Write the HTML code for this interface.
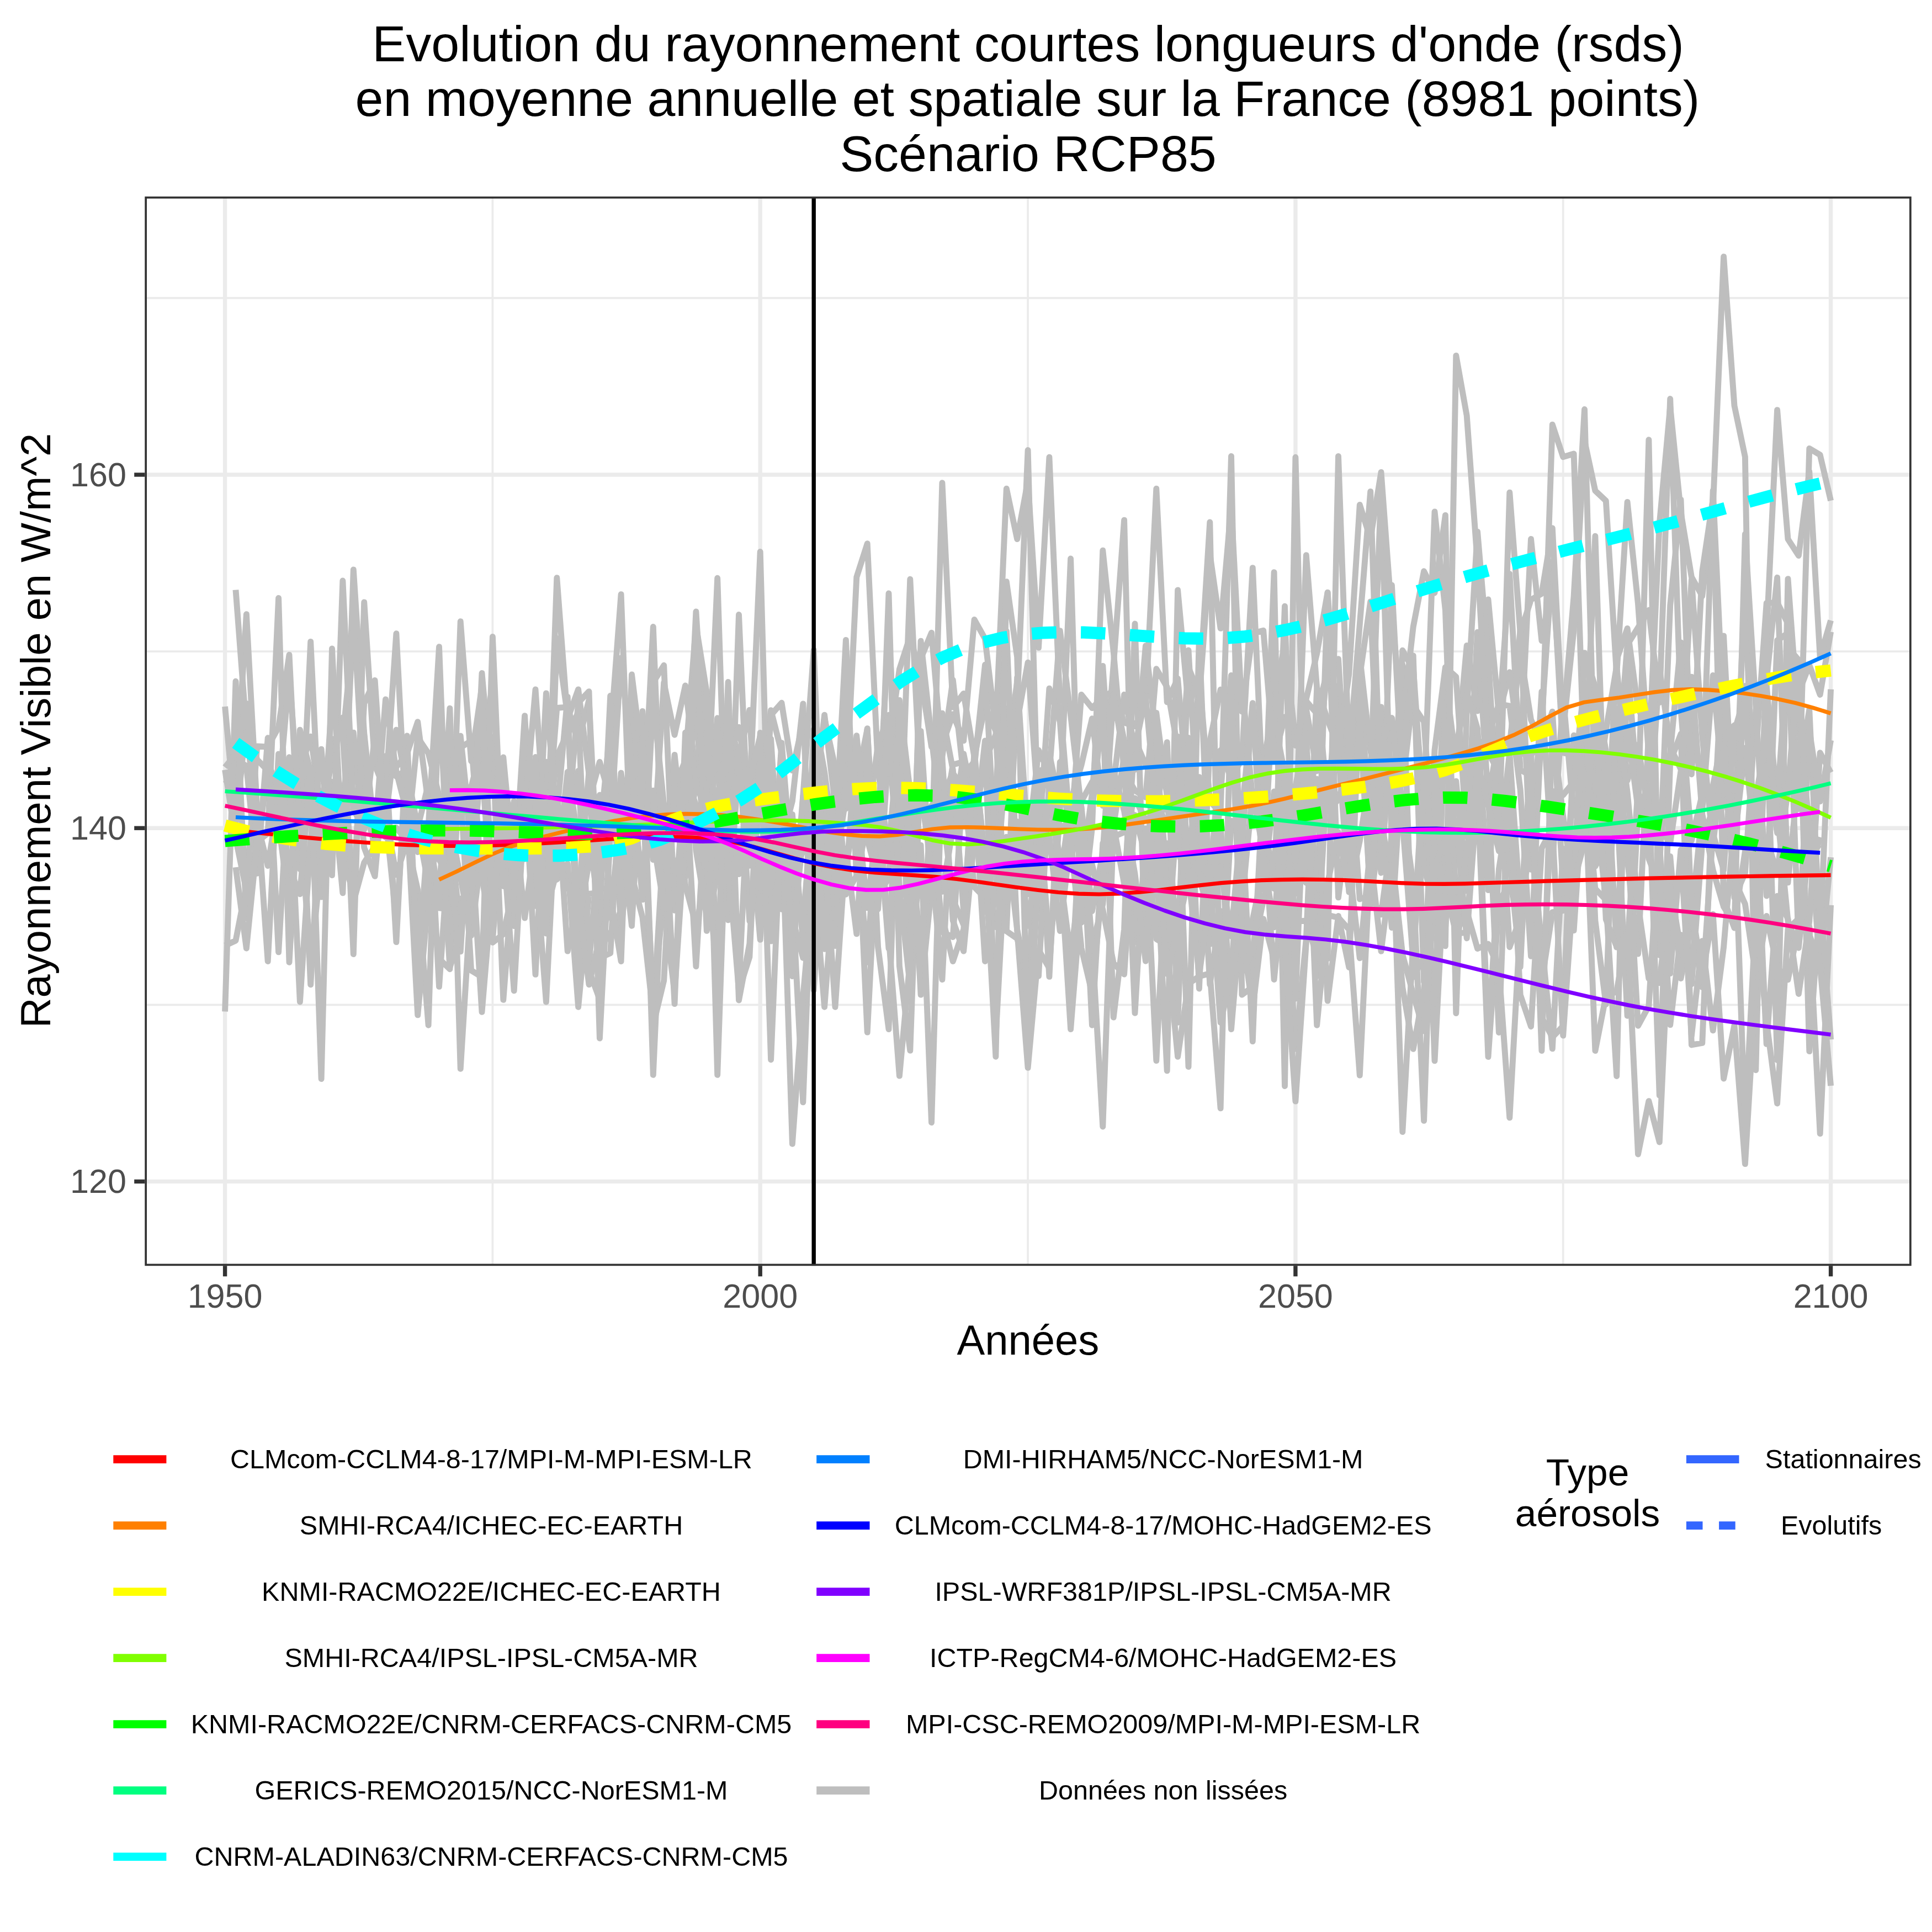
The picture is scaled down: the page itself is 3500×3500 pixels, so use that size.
<!DOCTYPE html><html><head><meta charset="utf-8"><style>
html,body{margin:0;padding:0;background:#fff;width:3500px;height:3500px;overflow:hidden}
svg{display:block}
text{font-family:"Liberation Sans", sans-serif}
</style></head><body>
<svg width="3500" height="3500" viewBox="0 0 3500 3500">
<defs><clipPath id="pc"><rect x="262.3" y="356.0" width="3200.4" height="1937.2"/></clipPath></defs>
<rect x="0" y="0" width="3500" height="3500" fill="#fff"/>

<g clip-path="url(#pc)"><line x1="892.4" y1="356.0" x2="892.4" y2="2293.2" stroke="#EBEBEB" stroke-width="3.7"/><line x1="1862.1" y1="356.0" x2="1862.1" y2="2293.2" stroke="#EBEBEB" stroke-width="3.7"/><line x1="2831.7" y1="356.0" x2="2831.7" y2="2293.2" stroke="#EBEBEB" stroke-width="3.7"/><line x1="262.3" y1="1820.3" x2="3462.7" y2="1820.3" stroke="#EBEBEB" stroke-width="3.7"/><line x1="262.3" y1="1180.1" x2="3462.7" y2="1180.1" stroke="#EBEBEB" stroke-width="3.7"/><line x1="262.3" y1="539.9" x2="3462.7" y2="539.9" stroke="#EBEBEB" stroke-width="3.7"/><line x1="407.6" y1="356.0" x2="407.6" y2="2293.2" stroke="#EBEBEB" stroke-width="7.4"/><line x1="1377.2" y1="356.0" x2="1377.2" y2="2293.2" stroke="#EBEBEB" stroke-width="7.4"/><line x1="2346.9" y1="356.0" x2="2346.9" y2="2293.2" stroke="#EBEBEB" stroke-width="7.4"/><line x1="3316.6" y1="356.0" x2="3316.6" y2="2293.2" stroke="#EBEBEB" stroke-width="7.4"/><line x1="262.3" y1="2140.4" x2="3462.7" y2="2140.4" stroke="#EBEBEB" stroke-width="7.4"/><line x1="262.3" y1="1500.2" x2="3462.7" y2="1500.2" stroke="#EBEBEB" stroke-width="7.4"/><line x1="262.3" y1="860.0" x2="3462.7" y2="860.0" stroke="#EBEBEB" stroke-width="7.4"/>
<g fill="none" stroke="#BEBEBE" stroke-width="10.9" stroke-linejoin="round" stroke-linecap="butt"><path d="M407.6,1280.0 L427.0,1492.3 L446.4,1307.2 L465.8,1376.0 L485.2,1396.1 L504.6,1489.8 L524.0,1642.5 L543.4,1322.1 L562.7,1398.9 L582.1,1625.1 L601.5,1441.7 L620.9,1529.9 L640.3,1106.9 L659.7,1449.7 L679.1,1489.1 L698.5,1476.0 L717.9,1584.8 L737.3,1524.6 L756.7,1611.9 L776.1,1857.2 L795.5,1246.1 L814.9,1647.2 L834.2,1125.8 L853.6,1378.8 L873.0,1243.9 L892.4,1627.2 L911.8,1408.5 L931.2,1578.9 L950.6,1456.5 L970.0,1541.7 L989.4,1525.7 L1008.8,1593.3 L1028.2,1564.5 L1047.6,1824.2 L1067.0,1619.3 L1086.4,1617.8 L1105.7,1334.9 L1125.1,1076.7 L1144.5,1585.6 L1163.9,1661.8 L1183.3,1838.6 L1202.7,1517.9 L1222.1,1400.3 L1241.5,1456.8 L1260.9,1427.5 L1280.3,1391.9 L1299.7,1372.9 L1319.1,1666.8 L1338.5,1113.5 L1357.9,1554.6 L1377.2,1370.3 L1396.6,1642.2 L1416.0,1345.8 L1435.4,1580.1 L1454.8,1542.7 L1474.2,1445.4 L1493.6,1620.6 L1513.0,1525.4 L1532.4,1159.4 L1551.8,1588.3 L1571.2,1407.1 L1590.6,1620.9 L1610.0,1591.1 L1629.4,1310.2 L1648.8,1790.4 L1668.1,1161.2 L1687.5,1336.3 L1706.9,1504.4 L1726.3,1385.2 L1745.7,1379.9 L1765.1,1534.7 L1784.5,1547.9 L1803.9,1679.5 L1823.3,1686.7 L1842.7,1700.3 L1862.1,1767.8 L1881.5,1768.3 L1900.9,1413.7 L1920.3,1593.4 L1939.6,1457.1 L1959.0,1478.6 L1978.4,1708.4 L1997.8,2041.0 L2017.2,1497.0 L2036.6,1369.5 L2056.0,1817.1 L2075.4,1525.3 L2094.8,1921.6 L2114.2,1527.8 L2133.6,1689.7 L2153.0,1365.2 L2172.4,1591.7 L2191.8,1653.1 L2211.1,1754.2 L2230.5,1728.9 L2249.9,1730.4 L2269.3,1665.5 L2288.7,1574.7 L2308.1,1235.0 L2327.5,1568.2 L2346.9,1900.4 L2366.3,1700.7 L2385.7,1246.9 L2405.1,1452.2 L2424.5,1242.1 L2443.9,1563.2 L2463.3,1735.7 L2482.7,1533.5 L2502.0,1280.7 L2521.4,1470.6 L2540.8,2050.6 L2560.2,1706.1 L2579.6,1383.2 L2599.0,1921.9 L2618.4,1542.6 L2637.8,1490.5 L2657.2,1586.6 L2676.6,1338.7 L2696.0,1362.9 L2715.4,1399.8 L2734.8,1715.7 L2754.2,1663.3 L2773.5,1367.4 L2792.9,1346.4 L2812.3,1289.1 L2831.7,1601.7 L2851.1,1538.3 L2870.5,1395.8 L2889.9,1500.7 L2909.3,1583.1 L2928.7,1326.4 L2948.1,1557.2 L2967.5,1728.0 L2986.9,1324.1 L3006.3,1527.2 L3025.7,1856.6 L3045.0,1693.3 L3064.4,1782.8 L3083.8,1526.4 L3103.2,1464.1 L3122.6,1310.4 L3142.0,1593.7 L3161.4,1637.6 L3180.8,1768.4 L3200.2,1291.1 L3219.6,1920.5 L3239.0,1048.7 L3258.4,1312.7 L3277.8,1493.8 L3297.2,1754.1 L3316.6,1553.1"/><path d="M795.5,1737.0 L814.9,1755.7 L834.2,1345.0 L853.6,1534.4 L873.0,1588.4 L892.4,1707.4 L911.8,1692.5 L931.2,1603.3 L950.6,1296.6 L970.0,1641.3 L989.4,1255.9 L1008.8,1494.2 L1028.2,1509.8 L1047.6,1396.4 L1067.0,1757.9 L1086.4,1810.6 L1105.7,1510.0 L1125.1,1525.6 L1144.5,1598.4 L1163.9,1324.0 L1183.3,1543.1 L1202.7,1236.5 L1222.1,1331.2 L1241.5,1242.0 L1260.9,1405.8 L1280.3,1492.1 L1299.7,1585.5 L1319.1,1296.3 L1338.5,1372.7 L1357.9,1286.2 L1377.2,1651.8 L1396.6,1457.9 L1416.0,1567.6 L1435.4,1624.2 L1454.8,1996.9 L1474.2,1485.5 L1493.6,1499.6 L1513.0,1455.4 L1532.4,1465.0 L1551.8,1446.6 L1571.2,1870.1 L1590.6,1490.0 L1610.0,1141.0 L1629.4,1498.9 L1648.8,1532.5 L1668.1,1459.2 L1687.5,1515.4 L1706.9,1615.3 L1726.3,1501.4 L1745.7,1365.7 L1765.1,1461.4 L1784.5,1620.6 L1803.9,1454.9 L1823.3,1628.4 L1842.7,1605.1 L1862.1,1537.1 L1881.5,1395.9 L1900.9,1393.7 L1920.3,1582.9 L1939.6,1731.5 L1959.0,1582.0 L1978.4,1438.3 L1997.8,1206.4 L2017.2,1494.9 L2036.6,1601.0 L2056.0,1339.9 L2075.4,1385.4 L2094.8,1365.8 L2114.2,1591.9 L2133.6,1746.5 L2153.0,1177.9 L2172.4,1515.5 L2191.8,1598.3 L2211.1,1359.2 L2230.5,1411.1 L2249.9,1374.0 L2269.3,1028.6 L2288.7,1459.6 L2308.1,1220.0 L2327.5,1582.3 L2346.9,1531.1 L2366.3,1490.4 L2385.7,1658.4 L2405.1,1073.4 L2424.5,1625.9 L2443.9,1467.7 L2463.3,1189.3 L2482.7,1360.0 L2502.0,1440.8 L2521.4,1447.0 L2540.8,1204.2 L2560.2,1277.9 L2579.6,1307.5 L2599.0,1579.9 L2618.4,1227.1 L2637.8,1383.0 L2657.2,1169.4 L2676.6,1288.0 L2696.0,1085.9 L2715.4,1294.8 L2734.8,1217.8 L2754.2,1367.3 L2773.5,976.5 L2792.9,1160.7 L2812.3,1051.2 L2831.7,1310.9 L2851.1,1080.2 L2870.5,741.5 L2889.9,1451.3 L2909.3,1323.4 L2928.7,1207.2 L2948.1,1413.9 L2967.5,1349.2 L2986.9,1479.5 L3006.3,1543.1 L3025.7,1363.3 L3045.0,1163.6 L3064.4,1661.1 L3083.8,1467.7 L3103.2,1223.5 L3122.6,1445.3 L3142.0,1502.5 L3161.4,1052.7 L3180.8,1648.2 L3200.2,1232.8 L3219.6,1046.3 L3239.0,1598.9 L3258.4,1401.2 L3277.8,1285.4 L3297.2,1700.7 L3316.6,1248.7"/><path d="M407.6,1394.7 L427.0,1519.2 L446.4,1613.9 L465.8,1524.7 L485.2,1509.8 L504.6,1083.4 L524.0,1743.3 L543.4,1396.5 L562.7,1334.3 L582.1,1467.6 L601.5,1381.9 L620.9,1300.0 L640.3,1728.6 L659.7,1090.9 L679.1,1385.9 L698.5,1434.6 L717.9,1147.8 L737.3,1522.6 L756.7,1645.0 L776.1,1637.5 L795.5,1607.7 L814.9,1411.9 L834.2,1333.1 L853.6,1520.6 L873.0,1833.4 L892.4,1601.3 L911.8,1557.8 L931.2,1451.3 L950.6,1546.5 L970.0,1466.1 L989.4,1581.2 L1008.8,1046.8 L1028.2,1302.8 L1047.6,1248.9 L1067.0,1403.0 L1086.4,1735.3 L1105.7,1726.8 L1125.1,1400.3 L1144.5,1524.8 L1163.9,1330.6 L1183.3,1947.3 L1202.7,1514.6 L1222.1,1565.0 L1241.5,1589.0 L1260.9,1374.3 L1280.3,1483.6 L1299.7,1300.8 L1319.1,1632.5 L1338.5,1363.2 L1357.9,1495.2 L1377.2,1605.3 L1396.6,1338.7 L1416.0,1647.2 L1435.4,1475.5 L1454.8,1707.5 L1474.2,1586.5 L1493.6,1824.2 L1513.0,1570.4 L1532.4,1444.8 L1551.8,1045.5 L1571.2,984.8 L1590.6,1390.6 L1610.0,1551.8 L1629.4,1582.4 L1648.8,1049.2 L1668.1,1438.1 L1687.5,1566.6 L1706.9,874.6 L1726.3,1281.2 L1745.7,1256.4 L1765.1,1371.6 L1784.5,1278.9 L1803.9,1324.4 L1823.3,1686.7 L1842.7,1227.0 L1862.1,1531.0 L1881.5,1359.0 L1900.9,1401.3 L1920.3,1142.7 L1939.6,1295.7 L1959.0,1465.8 L1978.4,1857.2 L1997.8,1527.7 L2017.2,1516.1 L2036.6,1507.5 L2056.0,1445.9 L2075.4,1485.5 L2094.8,1476.5 L2114.2,1462.2 L2133.6,1544.9 L2153.0,1585.2 L2172.4,1424.6 L2191.8,1783.8 L2211.1,1650.4 L2230.5,1764.6 L2249.9,1479.6 L2269.3,1886.6 L2288.7,1381.4 L2308.1,1276.1 L2327.5,1164.3 L2346.9,1342.2 L2366.3,1283.6 L2385.7,1396.7 L2405.1,1205.8 L2424.5,1193.7 L2443.9,1501.1 L2463.3,1225.6 L2482.7,1089.9 L2502.0,1553.1 L2521.4,1060.0 L2540.8,1421.1 L2560.2,1255.7 L2579.6,1452.4 L2599.0,926.9 L2618.4,1105.2 L2637.8,1649.7 L2657.2,1544.2 L2676.6,1416.6 L2696.0,1333.3 L2715.4,1275.5 L2734.8,1278.8 L2754.2,1430.7 L2773.5,1732.4 L2792.9,1302.2 L2812.3,1017.4 L2831.7,1363.7 L2851.1,1368.0 L2870.5,1467.0 L2889.9,1569.2 L2909.3,1535.4 L2928.7,1412.9 L2948.1,1168.0 L2967.5,1136.9 L2986.9,1105.3 L3006.3,1272.6 L3025.7,722.5 L3045.0,1285.8 L3064.4,1522.8 L3083.8,1438.5 L3103.2,888.6 L3122.6,1304.5 L3142.0,1324.7 L3161.4,1260.1 L3180.8,1365.3 L3200.2,1092.6 L3219.6,1091.4 L3239.0,1129.8 L3258.4,1255.0 L3277.8,1204.9 L3297.2,1258.5 L3316.6,1144.7"/><path d="M795.5,1650.3 L814.9,1492.9 L834.2,1589.3 L853.6,1694.8 L873.0,1540.8 L892.4,1701.6 L911.8,1476.7 L931.2,1530.1 L950.6,1650.2 L970.0,1544.6 L989.4,1605.2 L1008.8,1476.0 L1028.2,1262.5 L1047.6,1782.3 L1067.0,1506.8 L1086.4,1665.3 L1105.7,1703.3 L1125.1,1647.5 L1144.5,1283.0 L1163.9,1510.1 L1183.3,1135.5 L1202.7,1643.3 L1222.1,1436.5 L1241.5,1514.0 L1260.9,1246.2 L1280.3,1686.4 L1299.7,1578.9 L1319.1,1566.5 L1338.5,1535.6 L1357.9,1486.9 L1377.2,1702.4 L1396.6,1396.1 L1416.0,1539.9 L1435.4,1768.5 L1454.8,1442.1 L1474.2,1546.5 L1493.6,1454.9 L1513.0,1527.7 L1532.4,1280.4 L1551.8,1487.3 L1571.2,1319.7 L1590.6,1715.8 L1610.0,1864.6 L1629.4,1268.5 L1648.8,1434.8 L1668.1,1802.1 L1687.5,1608.5 L1706.9,1660.9 L1726.3,1741.5 L1745.7,1683.4 L1765.1,1470.1 L1784.5,1651.8 L1803.9,1538.2 L1823.3,1283.4 L1842.7,1686.5 L1862.1,1934.4 L1881.5,1721.0 L1900.9,1753.7 L1920.3,1464.3 L1939.6,1012.0 L1959.0,1671.1 L1978.4,1499.9 L1997.8,997.3 L2017.2,1180.3 L2036.6,1398.8 L2056.0,1432.1 L2075.4,1444.4 L2094.8,1211.7 L2114.2,1244.6 L2133.6,1354.7 L2153.0,1546.0 L2172.4,1407.6 L2191.8,1710.3 L2211.1,1432.1 L2230.5,1223.5 L2249.9,1236.1 L2269.3,1450.3 L2288.7,1480.3 L2308.1,1774.5 L2327.5,1580.3 L2346.9,1618.9 L2366.3,1270.1 L2385.7,1292.8 L2405.1,1213.4 L2424.5,1282.4 L2443.9,1551.1 L2463.3,1334.7 L2482.7,1413.2 L2502.0,884.8 L2521.4,1534.7 L2540.8,1270.6 L2560.2,1187.7 L2579.6,1779.1 L2599.0,1358.5 L2618.4,1208.8 L2637.8,1226.0 L2657.2,1515.3 L2676.6,1145.1 L2696.0,1446.5 L2715.4,1334.1 L2734.8,1349.2 L2754.2,1180.9 L2773.5,1303.7 L2792.9,1347.7 L2812.3,769.1 L2831.7,827.9 L2851.1,822.0 L2870.5,1402.8 L2889.9,1610.0 L2909.3,1630.3 L2928.7,1949.5 L2948.1,1197.7 L2967.5,1448.5 L2986.9,1507.7 L3006.3,1210.2 L3025.7,1353.1 L3045.0,1393.3 L3064.4,1050.0 L3083.8,1332.8 L3103.2,1528.5 L3122.6,1152.0 L3142.0,1525.8 L3161.4,1355.0 L3180.8,1545.8 L3200.2,1386.4 L3219.6,1509.0 L3239.0,1172.8 L3258.4,1195.8 L3277.8,1904.6 L3297.2,1629.1 L3316.6,1883.2"/><path d="M407.6,1713.0 L427.0,1704.0 L446.4,1604.4 L465.8,1352.0 L485.2,1353.0 L504.6,1317.4 L524.0,1186.3 L543.4,1574.8 L562.7,1162.4 L582.1,1566.6 L601.5,1523.4 L620.9,1514.1 L640.3,1389.6 L659.7,1459.7 L679.1,1531.3 L698.5,1479.3 L717.9,1667.4 L737.3,1395.9 L756.7,1499.5 L776.1,1420.2 L795.5,1787.4 L814.9,1510.9 L834.2,1677.6 L853.6,1603.3 L873.0,1358.0 L892.4,1335.2 L911.8,1516.1 L931.2,1474.1 L950.6,1663.0 L970.0,1512.5 L989.4,1537.1 L1008.8,1370.4 L1028.2,1327.1 L1047.6,1291.2 L1067.0,1748.2 L1086.4,1513.9 L1105.7,1318.0 L1125.1,1686.9 L1144.5,1486.5 L1163.9,1445.8 L1183.3,1557.5 L1202.7,1461.1 L1222.1,1463.6 L1241.5,1565.7 L1260.9,1413.5 L1280.3,1479.2 L1299.7,1047.3 L1319.1,1651.1 L1338.5,1382.9 L1357.9,1568.2 L1377.2,1470.0 L1396.6,1286.6 L1416.0,1363.2 L1435.4,1620.1 L1454.8,1466.8 L1474.2,1474.2 L1493.6,1295.2 L1513.0,1458.2 L1532.4,1430.2 L1551.8,1378.7 L1571.2,1484.0 L1590.6,1586.7 L1610.0,1074.9 L1629.4,1750.0 L1648.8,1903.2 L1668.1,1366.3 L1687.5,1563.2 L1706.9,1446.8 L1726.3,1399.1 L1745.7,1492.5 L1765.1,1434.4 L1784.5,1741.5 L1803.9,1612.6 L1823.3,1371.2 L1842.7,1307.7 L1862.1,1200.2 L1881.5,1469.8 L1900.9,1365.4 L1920.3,1457.8 L1939.6,1451.7 L1959.0,1386.0 L1978.4,1301.8 L1997.8,1459.6 L2017.2,1204.6 L2036.6,942.2 L2056.0,1706.7 L2075.4,1613.7 L2094.8,1291.4 L2114.2,1442.5 L2133.6,1400.0 L2153.0,1932.6 L2172.4,1153.0 L2191.8,1633.0 L2211.1,1488.5 L2230.5,1864.6 L2249.9,1636.5 L2269.3,1433.5 L2288.7,1544.7 L2308.1,1036.6 L2327.5,1967.5 L2346.9,828.3 L2366.3,1599.3 L2385.7,1421.8 L2405.1,1468.6 L2424.5,1448.7 L2443.9,1384.0 L2463.3,1233.9 L2482.7,1639.1 L2502.0,1480.4 L2521.4,1610.4 L2540.8,1178.2 L2560.2,1213.1 L2579.6,1573.6 L2599.0,1637.0 L2618.4,1506.8 L2637.8,1691.2 L2657.2,1689.3 L2676.6,1398.3 L2696.0,1430.6 L2715.4,1870.5 L2734.8,1364.8 L2754.2,1645.7 L2773.5,1527.7 L2792.9,1707.1 L2812.3,1899.9 L2831.7,1537.1 L2851.1,1685.7 L2870.5,1395.1 L2889.9,1452.0 L2909.3,1632.5 L2928.7,1443.7 L2948.1,1840.3 L2967.5,1463.6 L2986.9,796.7 L3006.3,1730.4 L3025.7,1551.3 L3045.0,1772.5 L3064.4,1670.4 L3083.8,1788.5 L3103.2,1510.7 L3122.6,1576.0 L3142.0,1314.0 L3161.4,1375.7 L3180.8,1460.6 L3200.2,1891.4 L3219.6,1623.3 L3239.0,1664.7 L3258.4,1800.5 L3277.8,1669.1 L3297.2,1363.7 L3316.6,1399.5"/><path d="M407.6,1412.1 L427.0,1429.7 L446.4,1112.8 L465.8,1466.2 L485.2,1741.5 L504.6,1365.9 L524.0,1386.9 L543.4,1511.7 L562.7,1461.1 L582.1,1388.6 L601.5,1523.6 L620.9,1440.2 L640.3,1327.1 L659.7,1535.4 L679.1,1587.4 L698.5,1374.3 L717.9,1406.7 L737.3,1394.1 L756.7,1543.6 L776.1,1497.4 L795.5,1171.8 L814.9,1668.6 L834.2,1354.4 L853.6,1342.0 L873.0,1597.7 L892.4,1603.6 L911.8,1372.0 L931.2,1576.4 L950.6,1430.7 L970.0,1440.6 L989.4,1530.4 L1008.8,1282.4 L1028.2,1281.0 L1047.6,1345.4 L1067.0,1267.9 L1086.4,1657.2 L1105.7,1260.5 L1125.1,1651.7 L1144.5,1547.4 L1163.9,1439.7 L1183.3,1814.0 L1202.7,1623.2 L1222.1,1444.5 L1241.5,1603.0 L1260.9,1676.0 L1280.3,1587.6 L1299.7,1318.2 L1319.1,1453.4 L1338.5,1357.6 L1357.9,1668.6 L1377.2,1553.6 L1396.6,1668.5 L1416.0,1440.6 L1435.4,1663.4 L1454.8,1735.4 L1474.2,1321.5 L1493.6,1486.1 L1513.0,1523.5 L1532.4,1620.4 L1551.8,1586.3 L1571.2,1491.5 L1590.6,1349.3 L1610.0,1295.2 L1629.4,1420.7 L1648.8,1649.5 L1668.1,1324.5 L1687.5,1628.1 L1706.9,1292.3 L1726.3,1394.7 L1745.7,1651.4 L1765.1,1389.1 L1784.5,1204.3 L1803.9,1569.5 L1823.3,1375.8 L1842.7,1235.4 L1862.1,1619.7 L1881.5,1429.6 L1900.9,1769.4 L1920.3,1380.5 L1939.6,1517.0 L1959.0,1520.8 L1978.4,1468.9 L1997.8,1280.6 L2017.2,1843.0 L2036.6,1683.3 L2056.0,1129.9 L2075.4,1736.8 L2094.8,1553.5 L2114.2,1939.9 L2133.6,1068.9 L2153.0,1279.2 L2172.4,1225.9 L2191.8,1451.0 L2211.1,1473.5 L2230.5,826.4 L2249.9,1802.1 L2269.3,1787.8 L2288.7,1416.5 L2308.1,1301.1 L2327.5,1402.4 L2346.9,1508.0 L2366.3,1005.8 L2385.7,1245.6 L2405.1,1304.1 L2424.5,1355.6 L2443.9,1359.8 L2463.3,1628.9 L2482.7,1623.0 L2502.0,1656.8 L2521.4,1513.0 L2540.8,1215.5 L2560.2,1770.0 L2579.6,1733.8 L2599.0,1818.5 L2618.4,1285.4 L2637.8,1354.3 L2657.2,1254.4 L2676.6,1320.1 L2696.0,1612.6 L2715.4,1303.1 L2734.8,1039.7 L2754.2,1394.9 L2773.5,1404.9 L2792.9,1903.6 L2812.3,1319.4 L2831.7,1478.4 L2851.1,1609.0 L2870.5,1182.6 L2889.9,1244.2 L2909.3,1360.7 L2928.7,1716.1 L2948.1,1318.2 L2967.5,1465.6 L2986.9,1425.0 L3006.3,1984.6 L3025.7,1380.0 L3045.0,1329.6 L3064.4,1893.0 L3083.8,1889.5 L3103.2,1423.5 L3122.6,1323.4 L3142.0,1626.4 L3161.4,1581.6 L3180.8,1286.0 L3200.2,1241.1 L3219.6,1458.0 L3239.0,1167.8 L3258.4,1712.3 L3277.8,1322.9 L3297.2,1451.9 L3316.6,1341.0"/><path d="M427.0,1375.3 L446.4,1387.5 L465.8,1582.4 L485.2,1336.8 L504.6,1724.9 L524.0,1388.9 L543.4,1355.7 L562.7,1783.7 L582.1,1435.3 L601.5,1416.5 L620.9,1617.8 L640.3,1032.0 L659.7,1328.0 L679.1,1513.4 L698.5,1267.0 L717.9,1397.3 L737.3,1473.4 L756.7,1838.9 L776.1,1627.0 L795.5,1470.5 L814.9,1652.9 L834.2,1627.9 L853.6,1655.5 L873.0,1309.2 L892.4,1341.8 L911.8,1811.3 L931.2,1557.0 L950.6,1556.2 L970.0,1516.6 L989.4,1650.8 L1008.8,1577.8 L1028.2,1398.5 L1047.6,1520.7 L1067.0,1450.2 L1086.4,1380.2 L1105.7,1446.8 L1125.1,1448.6 L1144.5,1652.5 L1163.9,1288.4 L1183.3,1521.6 L1202.7,1641.3 L1222.1,1798.1 L1241.5,1506.9 L1260.9,1108.0 L1280.3,1411.2 L1299.7,1725.4 L1319.1,1557.8 L1338.5,1794.5 L1357.9,1733.5 L1377.2,1327.4 L1396.6,1507.9 L1416.0,1429.2 L1435.4,1633.9 L1454.8,1668.0 L1474.2,1441.5 L1493.6,1301.2 L1513.0,1390.4 L1532.4,1408.0 L1551.8,1417.1 L1571.2,1321.0 L1590.6,1646.9 L1610.0,1353.4 L1629.4,1212.5 L1648.8,1152.5 L1668.1,1227.3 L1687.5,1352.8 L1706.9,1349.8 L1726.3,1293.6 L1745.7,1341.9 L1765.1,1122.5 L1784.5,1157.1 L1803.9,1320.6 L1823.3,885.2 L1842.7,976.6 L1862.1,871.8 L1881.5,1173.4 L1900.9,828.3 L1920.3,1275.6 L1939.6,1510.1 L1959.0,1258.5 L1978.4,1282.7 L1997.8,1263.6 L2017.2,1251.3 L2036.6,1309.0 L2056.0,1315.6 L2075.4,1278.6 L2094.8,885.2 L2114.2,1271.9 L2133.6,1229.2 L2153.0,1454.1 L2172.4,1267.7 L2191.8,1003.8 L2211.1,1138.4 L2230.5,917.1 L2249.9,1289.2 L2269.3,1147.3 L2288.7,1142.2 L2308.1,1374.5 L2327.5,1298.8 L2346.9,1350.6 L2366.3,1266.2 L2385.7,1183.9 L2405.1,1073.3 L2424.5,1357.3 L2443.9,1220.9 L2463.3,914.5 L2482.7,975.9 L2502.0,855.5 L2521.4,1116.9 L2540.8,1306.9 L2560.2,1135.6 L2579.6,1034.8 L2599.0,1074.0 L2618.4,933.4 L2637.8,1835.6 L2657.2,1287.6 L2676.6,963.1 L2696.0,1191.2 L2715.4,1514.4 L2734.8,892.2 L2754.2,1146.7 L2773.5,1086.4 L2792.9,1075.4 L2812.3,956.8 L2831.7,1323.9 L2851.1,1141.5 L2870.5,798.3 L2889.9,889.0 L2909.3,907.2 L2928.7,1221.8 L2948.1,909.4 L2967.5,1094.0 L2986.9,1367.9 L3006.3,948.8 L3025.7,736.8 L3045.0,928.1 L3064.4,1045.3 L3083.8,1079.9 L3103.2,919.1 L3122.6,465.0 L3142.0,735.0 L3161.4,827.6 L3180.8,1938.6 L3200.2,1151.0 L3219.6,742.6 L3239.0,976.6 L3258.4,1006.6 L3277.8,854.5 L3297.2,1190.5 L3316.6,1123.9"/><path d="M427.0,1068.7 L446.4,1323.0 L465.8,1489.5 L485.2,1568.5 L504.6,1448.8 L524.0,1371.7 L543.4,1556.8 L562.7,1455.6 L582.1,1528.2 L601.5,1340.3 L620.9,1331.9 L640.3,1634.2 L659.7,1562.7 L679.1,1533.2 L698.5,1369.6 L717.9,1706.6 L737.3,1333.0 L756.7,1761.7 L776.1,1502.6 L795.5,1630.9 L814.9,1283.1 L834.2,1936.3 L853.6,1621.9 L873.0,1219.5 L892.4,1436.0 L911.8,1457.4 L931.2,1677.5 L950.6,1410.5 L970.0,1765.4 L989.4,1380.3 L1008.8,1540.1 L1028.2,1608.1 L1047.6,1632.5 L1067.0,1397.3 L1086.4,1623.9 L1105.7,1366.2 L1125.1,1510.9 L1144.5,1440.4 L1163.9,1420.4 L1183.3,1447.2 L1202.7,1576.5 L1222.1,1424.4 L1241.5,1378.0 L1260.9,1132.9 L1280.3,1254.6 L1299.7,1947.3 L1319.1,1379.8 L1338.5,1317.1 L1357.9,1438.3 L1377.2,999.5 L1396.6,1705.1 L1416.0,1526.3 L1435.4,1451.4 L1454.8,1275.0 L1474.2,1793.5 L1493.6,1478.4 L1513.0,1713.6 L1532.4,1235.2 L1551.8,1579.3 L1571.2,1344.8 L1590.6,1543.5 L1610.0,1329.2 L1629.4,1609.9 L1648.8,1787.2 L1668.1,1531.1 L1687.5,2033.6 L1706.9,1371.3 L1726.3,1231.8 L1745.7,1404.7 L1765.1,1489.9 L1784.5,1378.8 L1803.9,1330.8 L1823.3,1372.5 L1842.7,1272.3 L1862.1,815.4 L1881.5,1529.2 L1900.9,1247.2 L1920.3,1307.5 L1939.6,1564.3 L1959.0,1451.9 L1978.4,1416.5 L1997.8,1444.8 L2017.2,1243.8 L2036.6,1342.3 L2056.0,1394.4 L2075.4,1170.0 L2094.8,1334.5 L2114.2,1725.4 L2133.6,1458.2 L2153.0,1208.9 L2172.4,1257.4 L2191.8,945.9 L2211.1,1836.7 L2230.5,1486.9 L2249.9,1530.3 L2269.3,1276.3 L2288.7,1469.5 L2308.1,1609.8 L2327.5,1098.2 L2346.9,1809.2 L2366.3,1342.1 L2385.7,1624.5 L2405.1,1736.7 L2424.5,826.4 L2443.9,1371.1 L2463.3,1131.1 L2482.7,890.4 L2502.0,1480.8 L2521.4,1680.5 L2540.8,1363.6 L2560.2,1209.2 L2579.6,1485.4 L2599.0,1373.2 L2618.4,1681.5 L2637.8,1415.2 L2657.2,1614.0 L2676.6,1384.5 L2696.0,1458.6 L2715.4,1541.8 L2734.8,1363.3 L2754.2,1139.7 L2773.5,1575.2 L2792.9,1252.9 L2812.3,1567.2 L2831.7,1260.8 L2851.1,1477.1 L2870.5,1422.5 L2889.9,971.1 L2909.3,1558.8 L2928.7,1195.1 L2948.1,1138.5 L2967.5,1283.9 L2986.9,1321.3 L3006.3,1576.6 L3025.7,1096.9 L3045.0,905.1 L3064.4,1402.7 L3083.8,1035.3 L3103.2,904.5 L3122.6,1628.8 L3142.0,1681.1 L3161.4,967.4 L3180.8,1279.5 L3200.2,1623.0 L3219.6,1160.1 L3239.0,1147.1 L3258.4,1465.6 L3277.8,812.5 L3297.2,824.0 L3316.6,907.0"/><path d="M407.6,1832.5 L427.0,1234.3 L446.4,1663.5 L465.8,1538.0 L485.2,1395.0 L504.6,1444.0 L524.0,1406.9 L543.4,1815.0 L562.7,1522.5 L582.1,1357.1 L601.5,1585.5 L620.9,1052.0 L640.3,1465.9 L659.7,1503.0 L679.1,1332.7 L698.5,1486.1 L717.9,1322.2 L737.3,1425.0 L756.7,1498.6 L776.1,1602.2 L795.5,1269.4 L814.9,1525.7 L834.2,1466.1 L853.6,1426.0 L873.0,1350.1 L892.4,1242.7 L911.8,1547.3 L931.2,1676.4 L950.6,1309.8 L970.0,1467.9 L989.4,1403.7 L1008.8,1475.1 L1028.2,1547.3 L1047.6,1492.3 L1067.0,1555.3 L1086.4,1440.2 L1105.7,1621.8 L1125.1,1741.5 L1144.5,1221.9 L1163.9,1378.3 L1183.3,1236.2 L1202.7,1205.3 L1222.1,1649.4 L1241.5,1400.2 L1260.9,1459.1 L1280.3,1639.9 L1299.7,1556.2 L1319.1,1286.2 L1338.5,1812.1 L1357.9,1709.6 L1377.2,1342.7 L1396.6,1566.4 L1416.0,1580.9 L1435.4,1679.7 L1454.8,1441.1 L1474.2,1177.8 L1493.6,1668.6 L1513.0,1659.6 L1532.4,1572.4 L1551.8,1457.0 L1571.2,1644.7 L1590.6,1474.0 L1610.0,1718.3 L1629.4,1336.6 L1648.8,1552.3 L1668.1,1702.7 L1687.5,1566.4 L1706.9,1774.5 L1726.3,1400.9 L1745.7,1428.2 L1765.1,1606.9 L1784.5,1626.7 L1803.9,1432.3 L1823.3,1143.4 L1842.7,1596.8 L1862.1,1600.4 L1881.5,1425.4 L1900.9,1501.3 L1920.3,1498.8 L1939.6,1490.2 L1959.0,1555.9 L1978.4,1713.1 L1997.8,1638.2 L2017.2,1421.0 L2036.6,1258.3 L2056.0,1356.0 L2075.4,1261.7 L2094.8,1470.7 L2114.2,1344.7 L2133.6,1852.3 L2153.0,1336.4 L2172.4,1791.1 L2191.8,1342.5 L2211.1,1249.3 L2230.5,1275.6 L2249.9,1760.9 L2269.3,1725.4 L2288.7,1630.8 L2308.1,1550.0 L2327.5,1452.5 L2346.9,1668.6 L2366.3,1668.2 L2385.7,1732.0 L2405.1,1388.7 L2424.5,1360.3 L2443.9,1616.0 L2463.3,1523.4 L2482.7,1398.8 L2502.0,1581.2 L2521.4,1301.7 L2540.8,1460.2 L2560.2,1602.0 L2579.6,2030.4 L2599.0,1442.6 L2618.4,1713.9 L2637.8,644.2 L2657.2,752.9 L2676.6,1020.0 L2696.0,1354.1 L2715.4,1374.2 L2734.8,1561.6 L2754.2,1751.4 L2773.5,1361.1 L2792.9,1778.4 L2812.3,1652.7 L2831.7,1649.5 L2851.1,1399.1 L2870.5,1287.2 L2889.9,1569.2 L2909.3,1407.0 L2928.7,1427.5 L2948.1,1517.2 L2967.5,1858.3 L2986.9,1822.6 L3006.3,1501.1 L3025.7,1527.5 L3045.0,1396.7 L3064.4,1226.1 L3083.8,1475.2 L3103.2,1576.4 L3122.6,1642.7 L3142.0,1674.0 L3161.4,1542.1 L3180.8,1445.4 L3200.2,1331.8 L3219.6,1470.3 L3239.0,1668.4 L3258.4,1717.3 L3277.8,1524.0 L3297.2,1537.5"/><path d="M427.0,1571.1 L446.4,1718.0 L465.8,1525.8 L485.2,1393.1 L504.6,1444.6 L524.0,1221.3 L543.4,1481.7 L562.7,1747.0 L582.1,1555.7 L601.5,1266.5 L620.9,1336.9 L640.3,1142.4 L659.7,1331.8 L679.1,1561.8 L698.5,1400.6 L717.9,1389.7 L737.3,1365.4 L756.7,1307.7 L776.1,1457.3 L795.5,1557.5 L814.9,1589.7 L834.2,1723.8 L853.6,1424.5 L873.0,1390.4 L892.4,1653.0 L911.8,1530.1 L931.2,1794.8 L950.6,1452.6 L970.0,1561.1 L989.4,1815.0 L1008.8,1429.6 L1028.2,1723.1 L1047.6,1626.9 L1067.0,1783.7 L1086.4,1699.2 L1105.7,1645.9 L1125.1,1484.4 L1144.5,1467.6 L1163.9,1581.1 L1183.3,1432.2 L1202.7,1653.5 L1222.1,1367.4 L1241.5,1553.1 L1260.9,1163.5 L1280.3,1573.1 L1299.7,1767.8 L1319.1,1235.4 L1338.5,1787.7 L1357.9,1386.1 L1377.2,1594.5 L1396.6,1295.3 L1416.0,1273.3 L1435.4,1395.8 L1454.8,1308.3 L1474.2,1290.3 L1493.6,1398.0 L1513.0,1546.0 L1532.4,1422.8 L1551.8,1509.9 L1571.2,1743.3 L1590.6,1445.4 L1610.0,1697.4 L1629.4,1949.1 L1648.8,1739.5 L1668.1,1193.2 L1687.5,1146.3 L1706.9,1374.3 L1726.3,1667.8 L1745.7,1723.1 L1765.1,1517.2 L1784.5,1342.0 L1803.9,1879.3 L1823.3,1516.1 L1842.7,1684.1 L1862.1,1786.5 L1881.5,1463.5 L1900.9,1709.7 L1920.3,1575.0 L1939.6,1807.5 L1959.0,1461.6 L1978.4,1650.6 L1997.8,1544.4 L2017.2,1257.8 L2036.6,1376.3 L2056.0,1835.2 L2075.4,1500.8 L2094.8,1701.3 L2114.2,1712.2 L2133.6,1914.2 L2153.0,1782.3 L2172.4,1768.8 L2191.8,1763.6 L2211.1,2007.9 L2230.5,1250.6 L2249.9,1687.5 L2269.3,1828.7 L2288.7,1664.7 L2308.1,1738.6 L2327.5,1710.5 L2346.9,1995.1 L2366.3,1708.7 L2385.7,1411.1 L2405.1,1813.1 L2424.5,1659.5 L2443.9,1752.5 L2463.3,1252.5 L2482.7,1492.1 L2502.0,1540.9 L2521.4,1549.6 L2540.8,1729.4 L2560.2,1801.4 L2579.6,1867.9 L2599.0,1620.7 L2618.4,1611.0 L2637.8,1690.6 L2657.2,1650.5 L2676.6,1718.6 L2696.0,1710.0 L2715.4,1754.6 L2734.8,2024.8 L2754.2,1672.5 L2773.5,1464.0 L2792.9,1843.4 L2812.3,1879.0 L2831.7,1858.8 L2851.1,1332.2 L2870.5,1405.0 L2889.9,1903.6 L2909.3,1804.4 L2928.7,1796.4 L2948.1,1683.8 L2967.5,2091.0 L2986.9,1994.7 L3006.3,2069.0 L3025.7,1637.9 L3045.0,1728.1 L3064.4,1641.2 L3083.8,1768.5 L3103.2,1656.3 L3122.6,1954.0 L3142.0,1857.4 L3161.4,2108.6 L3180.8,1784.0 L3200.2,1659.5 L3219.6,1752.7 L3239.0,1774.8 L3258.4,1678.8 L3277.8,1693.1 L3297.2,1749.2 L3316.6,1966.9"/><path d="M814.9,1340.5 L834.2,1431.1 L853.6,1758.0 L873.0,1769.9 L892.4,1153.4 L911.8,1605.6 L931.2,1584.0 L950.6,1471.8 L970.0,1248.9 L989.4,1530.9 L1008.8,1542.6 L1028.2,1494.9 L1047.6,1273.1 L1067.0,1252.6 L1086.4,1881.1 L1105.7,1508.6 L1125.1,1502.6 L1144.5,1677.2 L1163.9,1336.6 L1183.3,1857.4 L1202.7,1776.4 L1222.1,1416.6 L1241.5,1401.3 L1260.9,1750.7 L1280.3,1425.4 L1299.7,1381.5 L1319.1,1434.9 L1338.5,1583.6 L1357.9,1393.8 L1377.2,1600.4 L1396.6,1498.9 L1416.0,1476.3 L1435.4,2072.2 L1454.8,1805.6 L1474.2,1586.7 L1493.6,1534.7 L1513.0,1824.2 L1532.4,1537.5 L1551.8,1691.9 L1571.2,1380.1 L1590.6,1525.8 L1610.0,1300.8 L1629.4,1606.0 L1648.8,1635.1 L1668.1,1735.8 L1687.5,1459.5 L1706.9,1688.6 L1726.3,1697.5 L1745.7,1403.5 L1765.1,1379.8 L1784.5,1551.3 L1803.9,1914.2 L1823.3,1053.7 L1842.7,1190.5 L1862.1,1891.5 L1881.5,1590.4 L1900.9,1515.5 L1920.3,1686.6 L1939.6,1519.0 L1959.0,1717.4 L1978.4,1799.3 L1997.8,1591.0 L2017.2,1394.1 L2036.6,1469.5 L2056.0,1583.0 L2075.4,1741.2 L2094.8,1444.9 L2114.2,1501.8 L2133.6,1334.5 L2153.0,1584.5 L2172.4,1766.4 L2191.8,1625.1 L2211.1,1569.9 L2230.5,1696.2 L2249.9,1470.3 L2269.3,1273.7 L2288.7,1610.9 L2308.1,1433.9 L2327.5,1688.7 L2346.9,1423.6 L2366.3,1330.9 L2385.7,1768.3 L2405.1,1600.2 L2424.5,1507.9 L2443.9,1610.6 L2463.3,1303.4 L2482.7,1624.9 L2502.0,1348.4 L2521.4,1300.5 L2540.8,1488.8 L2560.2,1741.3 L2579.6,1417.2 L2599.0,1532.2 L2618.4,1616.5 L2637.8,1486.2 L2657.2,1699.7 L2676.6,1431.5 L2696.0,1914.6 L2715.4,1635.1 L2734.8,1598.6 L2754.2,1684.4 L2773.5,1425.2 L2792.9,1833.4 L2812.3,1433.1 L2831.7,1440.2 L2851.1,1416.2 L2870.5,1237.4 L2889.9,1667.7 L2909.3,1819.3 L2928.7,1284.2 L2948.1,1435.2 L2967.5,1639.2 L2986.9,1773.0 L3006.3,1780.8 L3025.7,1605.9 L3045.0,1719.5 L3064.4,1772.2 L3083.8,1493.0 L3103.2,1532.4 L3122.6,1352.0 L3142.0,1539.4 L3161.4,1242.8 L3180.8,1645.5 L3200.2,1517.6 L3219.6,1582.4 L3239.0,1429.7 L3258.4,1205.0 L3277.8,1583.9 L3297.2,1516.6"/><path d="M407.6,1390.0 L427.0,1366.1 L446.4,1274.3 L465.8,1535.5 L485.2,1380.5 L504.6,1430.7 L524.0,1572.9 L543.4,1619.8 L562.7,1390.5 L582.1,1954.6 L601.5,1175.0 L620.9,1560.9 L640.3,1614.3 L659.7,1274.2 L679.1,1232.4 L698.5,1516.6 L717.9,1499.5 L737.3,1523.8 L756.7,1335.9 L776.1,1364.7 L795.5,1441.8 L814.9,1752.4 L834.2,1694.4 L853.6,1493.2 L873.0,1254.1 L892.4,1672.6 L911.8,1420.9 L931.2,1584.9 L950.6,1531.9 L970.0,1371.5 L989.4,1691.1 L1008.8,1156.4 L1028.2,1295.8 L1047.6,1677.4 L1067.0,1561.1 L1086.4,1593.4 L1105.7,1504.1 L1125.1,1191.9 L1144.5,1391.1 L1163.9,1629.9 L1183.3,1267.8 L1202.7,1457.3 L1222.1,1818.6 L1241.5,1327.3 L1260.9,1540.8 L1280.3,1658.1 L1299.7,1430.9 L1319.1,1420.2 L1338.5,1418.3 L1357.9,1413.2 L1377.2,1333.2 L1396.6,1919.7 L1416.0,1455.4 L1435.4,1703.9 L1454.8,1514.7 L1474.2,1459.1 L1493.6,1719.3 L1513.0,1386.8 L1532.4,1601.3 L1551.8,1332.7 L1571.2,1520.9 L1590.6,1592.7 L1610.0,1536.1 L1629.4,1323.9 L1648.8,1441.1 L1668.1,1560.5 L1687.5,1627.2 L1706.9,1460.5 L1726.3,1629.0 L1745.7,1675.6 L1765.1,1361.3 L1784.5,1568.3 L1803.9,1536.7 L1823.3,1633.4 L1842.7,1488.4 L1862.1,1677.4 L1881.5,1538.3 L1900.9,1444.5 L1920.3,1554.4 L1939.6,1864.6 L1959.0,1622.4 L1978.4,1566.3 L1997.8,1647.8 L2017.2,1744.9 L2036.6,1765.0 L2056.0,1476.7 L2075.4,1550.9 L2094.8,1489.7 L2114.2,1764.4 L2133.6,1680.9 L2153.0,1590.6 L2172.4,1557.4 L2191.8,1592.1 L2211.1,1852.3 L2230.5,1766.7 L2249.9,1739.7 L2269.3,1726.3 L2288.7,1547.5 L2308.1,1679.8 L2327.5,1413.3 L2346.9,1560.4 L2366.3,1382.6 L2385.7,1857.2 L2405.1,1657.9 L2424.5,1662.2 L2443.9,1683.8 L2463.3,1948.0 L2482.7,1548.6 L2502.0,1723.2 L2521.4,1567.8 L2540.8,1788.9 L2560.2,1900.4 L2579.6,1792.5 L2599.0,1568.0 L2618.4,1522.0 L2637.8,1673.9 L2657.2,1540.6 L2676.6,1401.4 L2696.0,1877.7 L2715.4,1574.5 L2734.8,1449.8 L2754.2,1802.3 L2773.5,1859.5 L2792.9,1536.8 L2812.3,1499.9 L2831.7,1876.0 L2851.1,1598.7 L2870.5,1525.2 L2889.9,1274.5 L2909.3,1665.5 L2928.7,1714.9 L2948.1,1713.2 L2967.5,1427.2 L2986.9,1555.8 L3006.3,1605.9 L3025.7,1763.5 L3045.0,1539.3 L3064.4,1876.2 L3083.8,1704.6 L3103.2,1866.8 L3122.6,1715.9 L3142.0,1487.4 L3161.4,2039.8 L3180.8,1655.7 L3200.2,1850.9 L3219.6,1999.0 L3239.0,1682.9 L3258.4,1664.2 L3277.8,1678.8 L3297.2,2053.8 L3316.6,1639.8"/></g>
<line x1="1474.2" y1="356" x2="1474.2" y2="2293.2" stroke="#000" stroke-width="7.4"/>
<path d="M407.6,1502.7 L444.4,1506.4 L481.2,1510.1 L518.1,1513.8 L554.9,1517.4 L591.7,1520.7 L628.5,1523.8 L665.4,1526.5 L702.2,1528.9 L739.0,1530.7 L775.8,1531.9 L812.6,1532.5 L849.5,1532.4 L886.3,1531.7 L923.1,1530.5 L959.9,1528.8 L996.8,1526.9 L1033.6,1524.7 L1070.4,1522.4 L1107.2,1520.0 L1144.0,1517.9 L1180.9,1516.4 L1217.7,1516.0 L1254.5,1517.0 L1291.3,1520.1 L1328.2,1525.6 L1365.0,1534.0 L1401.8,1544.2 L1438.6,1554.8 L1475.4,1564.3 L1512.3,1571.7 L1549.1,1577.1 L1585.9,1580.8 L1622.7,1583.5 L1659.6,1585.9 L1696.4,1588.7 L1733.2,1592.5 L1770.0,1597.2 L1806.8,1602.5 L1843.7,1607.7 L1880.5,1612.5 L1917.3,1616.5 L1954.1,1619.1 L1991.0,1620.0 L2027.8,1618.8 L2064.6,1616.1 L2101.4,1612.3 L2138.2,1607.9 L2175.1,1603.6 L2211.9,1599.7 L2248.7,1596.8 L2285.5,1594.7 L2322.4,1593.6 L2359.2,1593.2 L2396.0,1593.5 L2432.8,1594.4 L2469.6,1596.0 L2506.5,1598.0 L2543.3,1599.9 L2580.1,1601.2 L2616.9,1601.4 L2653.8,1600.8 L2690.6,1599.7 L2727.4,1598.5 L2764.2,1597.3 L2801.0,1596.2 L2837.9,1595.1 L2874.7,1594.1 L2911.5,1593.1 L2948.3,1592.1 L2985.2,1591.2 L3022.0,1590.4 L3058.8,1589.6 L3095.6,1588.8 L3132.4,1588.1 L3169.3,1587.5 L3206.1,1586.9 L3242.9,1586.3 L3279.7,1585.9 L3316.6,1585.4" fill="none" stroke="#FF0000" stroke-width="7.2" stroke-linejoin="round"/>
<path d="M795.5,1593.5 L827.4,1578.7 L859.3,1563.0 L891.2,1547.8 L923.1,1534.5 L955.0,1524.0 L986.9,1515.3 L1018.8,1507.3 L1050.8,1499.7 L1082.7,1492.8 L1114.6,1486.7 L1146.5,1481.7 L1178.4,1477.8 L1210.3,1475.4 L1242.2,1474.4 L1274.1,1474.8 L1306.1,1476.5 L1338.0,1479.6 L1369.9,1484.0 L1401.8,1489.2 L1433.7,1494.7 L1465.6,1501.0 L1497.5,1507.0 L1529.4,1511.4 L1561.4,1514.4 L1593.3,1515.2 L1625.2,1512.4 L1657.1,1507.2 L1689.0,1502.0 L1720.9,1498.9 L1752.8,1498.5 L1784.7,1499.3 L1816.7,1500.6 L1848.6,1502.0 L1880.5,1503.0 L1912.4,1503.4 L1944.3,1502.8 L1976.2,1501.0 L2008.1,1497.9 L2040.0,1493.9 L2072.0,1489.4 L2103.9,1484.7 L2135.8,1480.1 L2167.7,1475.5 L2199.6,1470.9 L2231.5,1466.0 L2263.4,1460.6 L2295.3,1454.3 L2327.3,1447.0 L2359.2,1439.1 L2391.1,1431.1 L2423.0,1423.1 L2454.9,1415.2 L2486.8,1407.3 L2518.7,1399.2 L2550.6,1391.1 L2582.6,1382.7 L2614.5,1374.1 L2646.4,1365.1 L2678.3,1355.7 L2710.2,1344.9 L2742.1,1331.7 L2774.0,1316.2 L2805.9,1298.5 L2837.9,1281.7 L2869.8,1272.3 L2901.7,1267.7 L2933.6,1263.7 L2965.5,1258.8 L2997.4,1253.9 L3029.3,1250.2 L3061.2,1248.6 L3093.2,1249.6 L3125.1,1252.1 L3157.0,1255.7 L3188.9,1260.5 L3220.8,1266.4 L3252.7,1273.6 L3284.6,1282.2 L3316.6,1292.2" fill="none" stroke="#FF8000" stroke-width="7.2" stroke-linejoin="round"/>
<path d="M407.6,1495.4 L444.4,1505.0 L481.2,1513.1 L518.1,1519.6 L554.9,1524.8 L591.7,1528.9 L628.5,1531.9 L665.4,1534.1 L702.2,1535.5 L739.0,1536.4 L775.8,1536.8 L812.6,1537.0 L849.5,1537.0 L886.3,1537.1 L923.1,1537.2 L959.9,1537.2 L996.8,1536.7 L1033.6,1535.5 L1070.4,1533.4 L1107.2,1528.7 L1144.0,1518.8 L1180.9,1503.1 L1217.7,1486.0 L1254.5,1472.3 L1291.3,1462.4 L1328.2,1455.3 L1365.0,1450.0 L1401.8,1445.2 L1438.6,1440.5 L1475.4,1436.1 L1512.3,1432.2 L1549.1,1429.3 L1585.9,1427.6 L1622.7,1427.2 L1659.6,1427.9 L1696.4,1429.5 L1733.2,1431.9 L1770.0,1434.7 L1806.8,1437.8 L1843.7,1441.0 L1880.5,1444.0 L1917.3,1446.7 L1954.1,1448.8 L1991.0,1450.3 L2027.8,1451.2 L2064.6,1451.7 L2101.4,1451.5 L2138.2,1450.9 L2175.1,1449.8 L2211.9,1448.3 L2248.7,1446.3 L2285.5,1443.9 L2322.4,1441.1 L2359.2,1437.9 L2396.0,1434.4 L2432.8,1430.4 L2469.6,1425.8 L2506.5,1420.3 L2543.3,1413.7 L2580.1,1405.8 L2616.9,1395.4 L2653.8,1381.6 L2690.6,1365.6 L2727.4,1350.0 L2764.2,1336.1 L2801.0,1323.8 L2837.9,1312.7 L2874.7,1302.6 L2911.5,1293.2 L2948.3,1284.4 L2985.2,1275.9 L3022.0,1267.7 L3058.8,1259.7 L3095.6,1251.7 L3132.4,1243.9 L3169.3,1236.5 L3206.1,1229.6 L3242.9,1223.6 L3279.7,1218.6 L3316.6,1214.7" fill="none" stroke="#FFFF00" stroke-width="22.2" stroke-dasharray="44.4 44.4"/>
<path d="M795.5,1501.8 L827.4,1501.5 L859.3,1501.1 L891.2,1500.7 L923.1,1500.3 L955.0,1499.8 L986.9,1499.2 L1018.8,1498.5 L1050.8,1497.8 L1082.7,1496.9 L1114.6,1495.9 L1146.5,1494.8 L1178.4,1493.5 L1210.3,1492.1 L1242.2,1490.6 L1274.1,1489.2 L1306.1,1487.9 L1338.0,1486.9 L1369.9,1486.2 L1401.8,1486.1 L1433.7,1486.5 L1465.6,1487.6 L1497.5,1489.3 L1529.4,1491.6 L1561.4,1494.3 L1593.3,1498.5 L1625.2,1505.0 L1657.1,1513.6 L1689.0,1522.1 L1720.9,1528.0 L1752.8,1529.7 L1784.7,1527.8 L1816.7,1523.9 L1848.6,1519.3 L1880.5,1514.6 L1912.4,1509.6 L1944.3,1504.2 L1976.2,1498.1 L2008.1,1491.0 L2040.0,1482.9 L2072.0,1473.8 L2103.9,1463.7 L2135.8,1452.4 L2167.7,1440.6 L2199.6,1428.9 L2231.5,1418.0 L2263.4,1408.6 L2295.3,1401.4 L2327.3,1396.6 L2359.2,1393.8 L2391.1,1392.5 L2423.0,1392.3 L2454.9,1392.6 L2486.8,1393.0 L2518.7,1393.0 L2550.6,1392.1 L2582.6,1390.0 L2614.5,1386.2 L2646.4,1380.9 L2678.3,1375.0 L2710.2,1369.2 L2742.1,1364.4 L2774.0,1361.1 L2805.9,1359.5 L2837.9,1359.4 L2869.8,1360.6 L2901.7,1363.0 L2933.6,1366.5 L2965.5,1371.0 L2997.4,1376.3 L3029.3,1382.6 L3061.2,1389.7 L3093.2,1397.8 L3125.1,1406.8 L3157.0,1416.8 L3188.9,1427.7 L3220.8,1439.6 L3252.7,1452.5 L3284.6,1466.4 L3316.6,1481.3" fill="none" stroke="#80FF00" stroke-width="7.2" stroke-linejoin="round"/>
<path d="M407.6,1523.5 L444.4,1520.7 L481.2,1518.0 L518.1,1515.4 L554.9,1513.1 L591.7,1510.9 L628.5,1508.9 L665.4,1507.3 L702.2,1506.0 L739.0,1505.0 L775.8,1504.4 L812.6,1504.3 L849.5,1504.7 L886.3,1505.5 L923.1,1506.8 L959.9,1508.2 L996.8,1509.5 L1033.6,1510.4 L1070.4,1510.7 L1107.2,1510.0 L1144.0,1508.1 L1180.9,1504.9 L1217.7,1500.6 L1254.5,1495.4 L1291.3,1489.5 L1328.2,1483.1 L1365.0,1476.5 L1401.8,1469.9 L1438.6,1463.4 L1475.4,1457.3 L1512.3,1451.9 L1549.1,1447.3 L1585.9,1443.8 L1622.7,1441.5 L1659.6,1440.7 L1696.4,1441.5 L1733.2,1444.0 L1770.0,1448.4 L1806.8,1454.5 L1843.7,1461.7 L1880.5,1469.3 L1917.3,1476.6 L1954.1,1483.1 L1991.0,1488.3 L2027.8,1492.3 L2064.6,1495.2 L2101.4,1496.8 L2138.2,1497.4 L2175.1,1496.8 L2211.9,1495.0 L2248.7,1492.2 L2285.5,1488.2 L2322.4,1483.3 L2359.2,1477.6 L2396.0,1471.4 L2432.8,1465.2 L2469.6,1459.3 L2506.5,1453.9 L2543.3,1449.5 L2580.1,1446.3 L2616.9,1444.8 L2653.8,1445.1 L2690.6,1447.3 L2727.4,1451.0 L2764.2,1455.8 L2801.0,1461.1 L2837.9,1466.6 L2874.7,1472.2 L2911.5,1477.9 L2948.3,1483.8 L2985.2,1490.0 L3022.0,1496.7 L3058.8,1503.8 L3095.6,1511.5 L3132.4,1519.6 L3169.3,1528.3 L3206.1,1537.6 L3242.9,1547.5 L3279.7,1558.0 L3316.6,1569.2" fill="none" stroke="#00FF00" stroke-width="22.2" stroke-dasharray="44.4 44.4"/>
<path d="M407.6,1433.5 L444.4,1436.0 L481.2,1438.6 L518.1,1441.4 L554.9,1444.2 L591.7,1447.1 L628.5,1450.2 L665.4,1453.3 L702.2,1456.4 L739.0,1459.6 L775.8,1462.9 L812.6,1466.1 L849.5,1469.4 L886.3,1472.7 L923.1,1476.0 L959.9,1479.2 L996.8,1482.4 L1033.6,1485.6 L1070.4,1488.7 L1107.2,1491.7 L1144.0,1494.6 L1180.9,1497.5 L1217.7,1500.1 L1254.5,1502.7 L1291.3,1504.9 L1328.2,1506.4 L1365.0,1507.0 L1401.8,1506.4 L1438.6,1504.3 L1475.4,1500.4 L1512.3,1495.2 L1549.1,1489.5 L1585.9,1483.6 L1622.7,1477.7 L1659.6,1472.0 L1696.4,1466.7 L1733.2,1462.0 L1770.0,1458.1 L1806.8,1455.0 L1843.7,1453.1 L1880.5,1452.1 L1917.3,1452.0 L1954.1,1452.7 L1991.0,1454.2 L2027.8,1456.3 L2064.6,1459.0 L2101.4,1462.2 L2138.2,1465.7 L2175.1,1469.6 L2211.9,1473.6 L2248.7,1477.8 L2285.5,1482.1 L2322.4,1486.3 L2359.2,1490.4 L2396.0,1494.3 L2432.8,1497.9 L2469.6,1501.1 L2506.5,1503.8 L2543.3,1506.0 L2580.1,1507.6 L2616.9,1508.5 L2653.8,1508.7 L2690.6,1508.3 L2727.4,1507.3 L2764.2,1505.6 L2801.0,1503.4 L2837.9,1500.5 L2874.7,1497.1 L2911.5,1493.2 L2948.3,1488.7 L2985.2,1483.8 L3022.0,1478.3 L3058.8,1472.4 L3095.6,1466.0 L3132.4,1459.2 L3169.3,1451.9 L3206.1,1444.3 L3242.9,1436.3 L3279.7,1427.9 L3316.6,1419.1" fill="none" stroke="#00FF80" stroke-width="7.2" stroke-linejoin="round"/>
<path d="M427.0,1345.7 L463.6,1372.3 L500.1,1397.0 L536.7,1419.8 L573.3,1440.7 L609.9,1459.7 L646.5,1476.8 L683.0,1492.0 L719.6,1505.5 L756.2,1517.1 L792.8,1527.0 L829.3,1535.1 L865.9,1541.5 L902.5,1546.2 L939.1,1549.2 L975.6,1550.5 L1012.2,1550.1 L1048.8,1548.2 L1085.4,1544.6 L1121.9,1539.4 L1158.5,1532.2 L1195.1,1521.5 L1231.7,1506.5 L1268.3,1488.5 L1304.8,1469.5 L1341.4,1449.1 L1378.0,1425.3 L1414.6,1398.0 L1451.1,1368.9 L1487.7,1339.9 L1524.3,1312.4 L1560.9,1286.0 L1597.4,1259.3 L1634.0,1233.3 L1670.6,1210.5 L1707.2,1191.4 L1743.8,1175.9 L1780.3,1163.9 L1816.9,1155.2 L1853.5,1149.4 L1890.1,1146.3 L1926.6,1145.2 L1963.2,1145.7 L1999.8,1147.4 L2036.4,1149.8 L2072.9,1152.3 L2109.5,1154.7 L2146.1,1156.3 L2182.7,1156.9 L2219.2,1156.0 L2255.8,1153.1 L2292.4,1148.1 L2329.0,1141.2 L2365.6,1132.8 L2402.1,1123.1 L2438.7,1112.4 L2475.3,1101.0 L2511.9,1089.3 L2548.4,1077.4 L2585.0,1065.8 L2621.6,1054.7 L2658.2,1044.0 L2694.7,1033.8 L2731.3,1023.9 L2767.9,1014.3 L2804.5,1004.9 L2841.1,995.6 L2877.6,986.4 L2914.2,977.1 L2950.8,967.8 L2987.4,958.3 L3023.9,948.6 L3060.5,938.7 L3097.1,928.6 L3133.7,918.4 L3170.2,908.4 L3206.8,898.5 L3243.4,889.0 L3280.0,879.9 L3316.6,871.5" fill="none" stroke="#00FFFF" stroke-width="22.2" stroke-dasharray="44.4 44.4"/>
<path d="M427.0,1480.5 L463.6,1482.3 L500.1,1483.8 L536.7,1485.1 L573.3,1486.2 L609.9,1487.1 L646.5,1487.9 L683.0,1488.6 L719.6,1489.1 L756.2,1489.6 L792.8,1490.1 L829.3,1490.6 L865.9,1491.1 L902.5,1491.7 L939.1,1492.3 L975.6,1493.1 L1012.2,1494.0 L1048.8,1495.0 L1085.4,1496.2 L1121.9,1497.4 L1158.5,1498.8 L1195.1,1500.2 L1231.7,1501.6 L1268.3,1502.8 L1304.8,1503.7 L1341.4,1504.3 L1378.0,1504.2 L1414.6,1503.4 L1451.1,1501.7 L1487.7,1498.9 L1524.3,1494.9 L1560.9,1489.5 L1597.4,1482.7 L1634.0,1474.8 L1670.6,1466.1 L1707.2,1456.8 L1743.8,1447.4 L1780.3,1438.0 L1816.9,1429.0 L1853.5,1420.8 L1890.1,1413.5 L1926.6,1407.2 L1963.2,1401.9 L1999.8,1397.4 L2036.4,1393.6 L2072.9,1390.6 L2109.5,1388.1 L2146.1,1386.2 L2182.7,1384.7 L2219.2,1383.6 L2255.8,1382.7 L2292.4,1382.1 L2329.0,1381.5 L2365.6,1381.0 L2402.1,1380.5 L2438.7,1379.8 L2475.3,1378.9 L2511.9,1377.7 L2548.4,1376.1 L2585.0,1374.1 L2621.6,1371.5 L2658.2,1368.3 L2694.7,1364.4 L2731.3,1359.8 L2767.9,1354.3 L2804.5,1348.1 L2841.1,1341.1 L2877.6,1333.3 L2914.2,1324.8 L2950.8,1315.5 L2987.4,1305.5 L3023.9,1294.8 L3060.5,1283.3 L3097.1,1271.2 L3133.7,1258.3 L3170.2,1244.7 L3206.8,1230.5 L3243.4,1215.6 L3280.0,1200.0 L3316.6,1183.7" fill="none" stroke="#0080FF" stroke-width="7.2" stroke-linejoin="round"/>
<path d="M407.6,1522.8 L444.2,1514.4 L480.8,1506.0 L517.3,1497.9 L553.9,1489.9 L590.5,1482.3 L627.1,1475.1 L663.6,1468.4 L700.2,1462.3 L736.8,1456.9 L773.4,1452.2 L809.9,1448.3 L846.5,1445.4 L883.1,1443.5 L919.7,1442.6 L956.3,1443.0 L992.8,1444.6 L1029.4,1447.5 L1066.0,1451.9 L1102.6,1457.8 L1139.1,1465.3 L1175.7,1474.4 L1212.3,1484.8 L1248.9,1496.2 L1285.4,1508.2 L1322.0,1520.4 L1358.6,1532.5 L1395.2,1543.8 L1431.7,1553.8 L1468.3,1561.9 L1504.9,1568.1 L1541.5,1572.5 L1578.1,1575.3 L1614.6,1576.7 L1651.2,1577.0 L1687.8,1576.4 L1724.4,1575.0 L1760.9,1573.1 L1797.5,1570.9 L1834.1,1568.6 L1870.7,1566.4 L1907.2,1564.2 L1943.8,1562.0 L1980.4,1559.8 L2017.0,1557.5 L2053.6,1555.2 L2090.1,1552.6 L2126.7,1549.9 L2163.3,1546.9 L2199.9,1543.7 L2236.4,1540.1 L2273.0,1536.2 L2309.6,1531.9 L2346.2,1527.2 L2382.7,1522.0 L2419.3,1516.7 L2455.9,1511.6 L2492.5,1507.1 L2529.0,1503.6 L2565.6,1501.4 L2602.2,1501.0 L2638.8,1502.5 L2675.4,1505.5 L2711.9,1509.4 L2748.5,1513.2 L2785.1,1516.4 L2821.7,1519.2 L2858.2,1521.5 L2894.8,1523.4 L2931.4,1525.2 L2968.0,1526.7 L3004.5,1528.3 L3041.1,1529.9 L3077.7,1531.6 L3114.3,1533.6 L3150.9,1535.8 L3187.4,1538.3 L3224.0,1540.7 L3260.6,1542.9 L3297.2,1544.8" fill="none" stroke="#0000FF" stroke-width="7.2" stroke-linejoin="round"/>
<path d="M427.0,1430.1 L463.6,1432.4 L500.1,1434.7 L536.7,1437.1 L573.3,1439.7 L609.9,1442.4 L646.5,1445.4 L683.0,1448.6 L719.6,1452.1 L756.2,1456.0 L792.8,1460.2 L829.3,1464.9 L865.9,1470.1 L902.5,1475.8 L939.1,1481.9 L975.6,1488.3 L1012.2,1494.7 L1048.8,1500.9 L1085.4,1506.8 L1121.9,1512.2 L1158.5,1516.8 L1195.1,1520.5 L1231.7,1523.0 L1268.3,1524.3 L1304.8,1524.0 L1341.4,1522.1 L1378.0,1518.4 L1414.6,1513.6 L1451.1,1509.3 L1487.7,1506.7 L1524.3,1505.6 L1560.9,1505.5 L1597.4,1506.1 L1634.0,1507.5 L1670.6,1509.8 L1707.2,1513.4 L1743.8,1518.4 L1780.3,1525.0 L1816.9,1533.3 L1853.5,1543.7 L1890.1,1556.3 L1926.6,1571.0 L1963.2,1587.7 L1999.8,1604.6 L2036.4,1620.7 L2072.9,1635.7 L2109.5,1649.5 L2146.1,1662.0 L2182.7,1672.8 L2219.2,1681.8 L2255.8,1688.6 L2292.4,1693.2 L2329.0,1696.3 L2365.6,1698.9 L2402.1,1702.0 L2438.7,1706.4 L2475.3,1712.0 L2511.9,1718.6 L2548.4,1726.0 L2585.0,1734.1 L2621.6,1742.6 L2658.2,1751.5 L2694.7,1760.6 L2731.3,1769.8 L2767.9,1779.0 L2804.5,1788.1 L2841.1,1797.0 L2877.6,1805.5 L2914.2,1813.6 L2950.8,1821.1 L2987.4,1828.0 L3023.9,1834.3 L3060.5,1840.2 L3097.1,1845.7 L3133.7,1850.9 L3170.2,1855.8 L3206.8,1860.5 L3243.4,1865.1 L3280.0,1869.6 L3316.6,1874.2" fill="none" stroke="#8000FF" stroke-width="7.2" stroke-linejoin="round"/>
<path d="M814.9,1431.7 L846.3,1431.3 L877.7,1432.2 L909.1,1434.3 L940.5,1437.3 L972.0,1441.4 L1003.4,1446.3 L1034.8,1452.0 L1066.2,1458.4 L1097.6,1465.4 L1129.1,1473.0 L1160.5,1481.0 L1191.9,1489.3 L1223.3,1498.0 L1254.8,1506.9 L1286.2,1516.6 L1317.6,1528.1 L1349.0,1541.8 L1380.4,1556.2 L1411.9,1569.8 L1443.3,1582.3 L1474.7,1593.3 L1506.1,1602.3 L1537.5,1608.8 L1569.0,1612.2 L1600.4,1612.0 L1631.8,1608.1 L1663.2,1601.3 L1694.7,1593.1 L1726.1,1584.5 L1757.5,1576.5 L1788.9,1569.6 L1820.3,1564.5 L1851.8,1561.0 L1883.2,1558.8 L1914.6,1557.6 L1946.0,1556.8 L1977.5,1556.3 L2008.9,1555.5 L2040.3,1554.1 L2071.7,1552.1 L2103.1,1549.5 L2134.6,1546.5 L2166.0,1543.0 L2197.4,1539.3 L2228.8,1535.4 L2260.2,1531.4 L2291.7,1527.4 L2323.1,1523.5 L2354.5,1519.7 L2385.9,1516.2 L2417.4,1513.0 L2448.8,1510.2 L2480.2,1507.7 L2511.6,1505.7 L2543.0,1504.1 L2574.5,1503.1 L2605.9,1502.7 L2637.3,1502.9 L2668.7,1503.8 L2700.1,1505.3 L2731.6,1507.6 L2763.0,1510.3 L2794.4,1513.0 L2825.8,1515.3 L2857.3,1517.0 L2888.7,1517.6 L2920.1,1517.2 L2951.5,1515.8 L2982.9,1513.7 L3014.4,1510.7 L3045.8,1507.2 L3077.2,1503.2 L3108.6,1498.8 L3140.0,1494.2 L3171.5,1489.3 L3202.9,1484.5 L3234.3,1479.7 L3265.7,1475.0 L3297.2,1470.7" fill="none" stroke="#FF00FF" stroke-width="7.2" stroke-linejoin="round"/>
<path d="M407.6,1459.7 L444.4,1467.5 L481.2,1475.5 L518.1,1483.5 L554.9,1491.3 L591.7,1498.7 L628.5,1505.6 L665.4,1511.8 L702.2,1517.0 L739.0,1521.2 L775.8,1524.1 L812.6,1525.7 L849.5,1526.2 L886.3,1525.7 L923.1,1524.4 L959.9,1522.5 L996.8,1520.3 L1033.6,1517.8 L1070.4,1515.2 L1107.2,1512.9 L1144.0,1510.9 L1180.9,1509.5 L1217.7,1509.0 L1254.5,1509.5 L1291.3,1511.2 L1328.2,1514.4 L1365.0,1519.3 L1401.8,1526.1 L1438.6,1534.2 L1475.4,1542.3 L1512.3,1549.2 L1549.1,1554.8 L1585.9,1559.3 L1622.7,1563.1 L1659.6,1566.5 L1696.4,1570.0 L1733.2,1573.6 L1770.0,1577.3 L1806.8,1581.2 L1843.7,1585.2 L1880.5,1589.2 L1917.3,1593.3 L1954.1,1597.4 L1991.0,1601.6 L2027.8,1605.8 L2064.6,1609.9 L2101.4,1614.0 L2138.2,1618.1 L2175.1,1622.1 L2211.9,1625.9 L2248.7,1629.7 L2285.5,1633.3 L2322.4,1636.7 L2359.2,1639.8 L2396.0,1642.5 L2432.8,1644.7 L2469.6,1646.2 L2506.5,1647.1 L2543.3,1647.2 L2580.1,1646.3 L2616.9,1644.7 L2653.8,1642.8 L2690.6,1640.9 L2727.4,1639.4 L2764.2,1638.6 L2801.0,1638.3 L2837.9,1638.6 L2874.7,1639.5 L2911.5,1640.9 L2948.3,1642.9 L2985.2,1645.4 L3022.0,1648.5 L3058.8,1652.0 L3095.6,1656.1 L3132.4,1660.8 L3169.3,1665.9 L3206.1,1671.5 L3242.9,1677.6 L3279.7,1684.2 L3316.6,1691.2" fill="none" stroke="#FF0080" stroke-width="7.2" stroke-linejoin="round"/>
</g>
<rect x="264.15" y="357.85" width="3196.70" height="1933.50" fill="none" stroke="#333333" stroke-width="3.7"/>
<line x1="407.6" y1="2293.2" x2="407.6" y2="2312.3" stroke="#333333" stroke-width="7.4"/><line x1="1377.2" y1="2293.2" x2="1377.2" y2="2312.3" stroke="#333333" stroke-width="7.4"/><line x1="2346.9" y1="2293.2" x2="2346.9" y2="2312.3" stroke="#333333" stroke-width="7.4"/><line x1="3316.6" y1="2293.2" x2="3316.6" y2="2312.3" stroke="#333333" stroke-width="7.4"/><line x1="243.2" y1="2140.4" x2="262.3" y2="2140.4" stroke="#333333" stroke-width="7.4"/><line x1="243.2" y1="1500.2" x2="262.3" y2="1500.2" stroke="#333333" stroke-width="7.4"/><line x1="243.2" y1="860.0" x2="262.3" y2="860.0" stroke="#333333" stroke-width="7.4"/>
<text x="407.6" y="2368.6" font-size="61.1" fill="#4D4D4D" text-anchor="middle">1950</text>
<text x="1377.2" y="2368.6" font-size="61.1" fill="#4D4D4D" text-anchor="middle">2000</text>
<text x="2346.9" y="2368.6" font-size="61.1" fill="#4D4D4D" text-anchor="middle">2050</text>
<text x="3316.6" y="2368.6" font-size="61.1" fill="#4D4D4D" text-anchor="middle">2100</text>
<text x="229" y="2161.1" font-size="61.1" fill="#4D4D4D" text-anchor="end">120</text>
<text x="229" y="1520.9" font-size="61.1" fill="#4D4D4D" text-anchor="end">140</text>
<text x="229" y="880.7" font-size="61.1" fill="#4D4D4D" text-anchor="end">160</text>
<text x="1862.5" y="111.3" font-size="91.67" fill="#000" text-anchor="middle">Evolution du rayonnement courtes longueurs d'onde (rsds)</text>
<text x="1861.4" y="210.1" font-size="91.48" fill="#000" text-anchor="middle">en moyenne annuelle et spatiale sur la France (8981 points)</text>
<text x="1862.5" y="310.4" font-size="91.67" fill="#000" text-anchor="middle">Scénario RCP85</text>
<text x="1862.5" y="2454" font-size="76.0" fill="#000" text-anchor="middle">Années</text>
<text transform="translate(91,1323.5) rotate(-90)" x="0" y="0" font-size="76.0" fill="#000" text-anchor="middle">Rayonnement Visible en W/m^2</text>
<line x1="205.3" y1="2643.6" x2="301.4" y2="2643.6" stroke="#FF0000" stroke-width="14.8"/>
<text x="890" y="2659.9" font-size="48.5" fill="#000" text-anchor="middle">CLMcom-CCLM4-8-17/MPI-M-MPI-ESM-LR</text>
<line x1="205.3" y1="2763.6" x2="301.4" y2="2763.6" stroke="#FF8000" stroke-width="14.8"/>
<text x="890" y="2779.9" font-size="48.5" fill="#000" text-anchor="middle">SMHI-RCA4/ICHEC-EC-EARTH</text>
<line x1="205.3" y1="2883.6" x2="301.4" y2="2883.6" stroke="#FFFF00" stroke-width="14.8"/>
<text x="890" y="2899.9" font-size="48.5" fill="#000" text-anchor="middle">KNMI-RACMO22E/ICHEC-EC-EARTH</text>
<line x1="205.3" y1="3003.6" x2="301.4" y2="3003.6" stroke="#80FF00" stroke-width="14.8"/>
<text x="890" y="3019.9" font-size="48.5" fill="#000" text-anchor="middle">SMHI-RCA4/IPSL-IPSL-CM5A-MR</text>
<line x1="205.3" y1="3123.6" x2="301.4" y2="3123.6" stroke="#00FF00" stroke-width="14.8"/>
<text x="890" y="3139.9" font-size="48.5" fill="#000" text-anchor="middle">KNMI-RACMO22E/CNRM-CERFACS-CNRM-CM5</text>
<line x1="205.3" y1="3243.6" x2="301.4" y2="3243.6" stroke="#00FF80" stroke-width="14.8"/>
<text x="890" y="3259.9" font-size="48.5" fill="#000" text-anchor="middle">GERICS-REMO2015/NCC-NorESM1-M</text>
<line x1="205.3" y1="3363.6" x2="301.4" y2="3363.6" stroke="#00FFFF" stroke-width="14.8"/>
<text x="890" y="3379.9" font-size="48.5" fill="#000" text-anchor="middle">CNRM-ALADIN63/CNRM-CERFACS-CNRM-CM5</text>
<line x1="1479.2" y1="2643.6" x2="1575.5" y2="2643.6" stroke="#0080FF" stroke-width="14.8"/>
<text x="2107.1" y="2659.9" font-size="48.5" fill="#000" text-anchor="middle">DMI-HIRHAM5/NCC-NorESM1-M</text>
<line x1="1479.2" y1="2763.6" x2="1575.5" y2="2763.6" stroke="#0000FF" stroke-width="14.8"/>
<text x="2107.1" y="2779.9" font-size="48.5" fill="#000" text-anchor="middle">CLMcom-CCLM4-8-17/MOHC-HadGEM2-ES</text>
<line x1="1479.2" y1="2883.6" x2="1575.5" y2="2883.6" stroke="#8000FF" stroke-width="14.8"/>
<text x="2107.1" y="2899.9" font-size="48.5" fill="#000" text-anchor="middle">IPSL-WRF381P/IPSL-IPSL-CM5A-MR</text>
<line x1="1479.2" y1="3003.6" x2="1575.5" y2="3003.6" stroke="#FF00FF" stroke-width="14.8"/>
<text x="2107.1" y="3019.9" font-size="48.5" fill="#000" text-anchor="middle">ICTP-RegCM4-6/MOHC-HadGEM2-ES</text>
<line x1="1479.2" y1="3123.6" x2="1575.5" y2="3123.6" stroke="#FF0080" stroke-width="14.8"/>
<text x="2107.1" y="3139.9" font-size="48.5" fill="#000" text-anchor="middle">MPI-CSC-REMO2009/MPI-M-MPI-ESM-LR</text>
<line x1="1479.2" y1="3243.6" x2="1575.5" y2="3243.6" stroke="#BEBEBE" stroke-width="14.8"/>
<text x="2107.1" y="3259.9" font-size="48.5" fill="#000" text-anchor="middle">Données non lissées</text>
<text x="2876" y="2691" font-size="69.44" fill="#000" text-anchor="middle">Type</text>
<text x="2876" y="2765.1" font-size="69.44" fill="#000" text-anchor="middle">aérosols</text>
<line x1="3054.9" y1="2643.6" x2="3150.5" y2="2643.6" stroke="#3366FF" stroke-width="14.8"/>
<line x1="3054.9" y1="2763.6" x2="3150.5" y2="2763.6" stroke="#3366FF" stroke-width="14.8" stroke-dasharray="29.6 29.6"/>
<text x="3197.6" y="2659.9" font-size="48.5" fill="#000">Stationnaires</text>
<text x="3226" y="2779.9" font-size="48.5" fill="#000">Evolutifs</text>
</svg></body></html>
